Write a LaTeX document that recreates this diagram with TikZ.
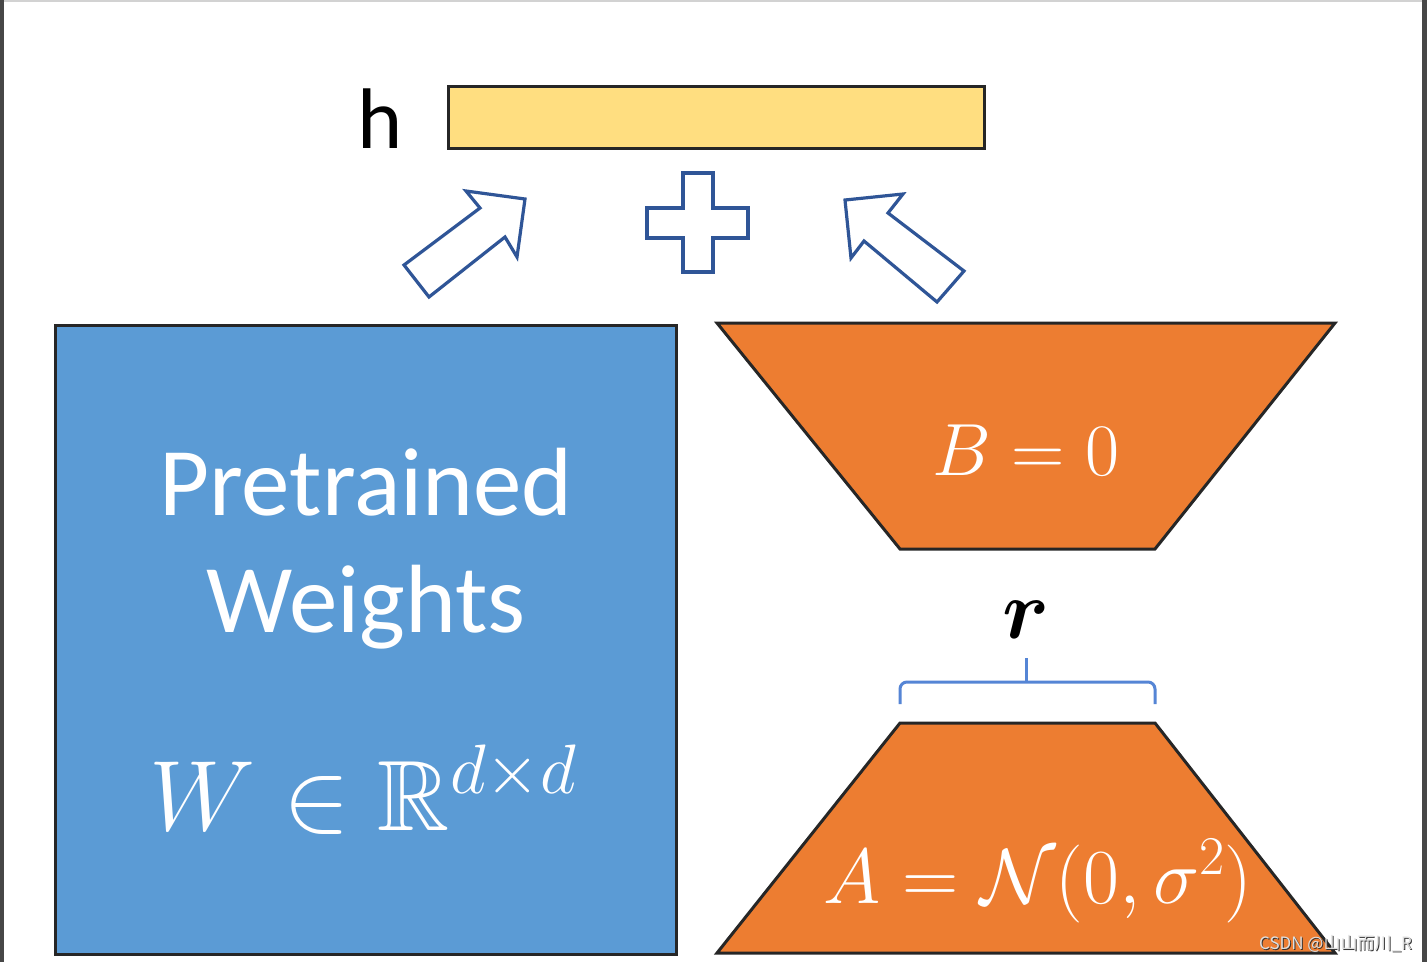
\RequirePackage{fix-cm}
\documentclass[tikz,border=0pt]{standalone}
\usepackage{amsmath,amssymb,bm}
\usepackage{fontspec}
\setmainfont{Carlito}
\newfontfamily\cjkfont{Noto Sans CJK SC}
\definecolor{barY}{HTML}{FFDE80}
\definecolor{wBlue}{HTML}{5B9BD5}
\definecolor{abOrange}{HTML}{ED7D31}
\definecolor{arrBlue}{HTML}{2F5597}
\definecolor{braceBlue}{HTML}{5585D5}
\definecolor{edgeDark}{HTML}{262626}
\begin{document}
\begin{tikzpicture}[x=1pt,y=-1pt,
  outl/.style={draw=edgeDark,line width=3pt,line join=miter},
  blockarrow/.style={draw=arrBlue,fill=white,line width=3.2pt,line join=miter},
  wtext/.style={text=white,inner sep=0pt,anchor=base}]
\useasboundingbox (0,0) rectangle (1427,962);
\fill[white] (0,0) rectangle (1427,962);
% screenshot frame
\fill[gray!35] (0,0) rectangle (1427,2);
\fill[black!72] (0,0) rectangle (4,962);
\fill[black!72] (1422,0) rectangle (1427,962);
% h bar
\node[outl,fill=barY,minimum width=536pt,minimum height=62pt,inner sep=0pt,anchor=north west] (hbar) at (447,85) {};
\node[inner sep=0pt,anchor=base] (hlabel) at (380,148) {\fontsize{86}{86}\selectfont h};
% left block arrow
\draw[blockarrow] (404,265) -- (480,208) -- (466,191) -- (525,199) -- (517,257) -- (505,237) -- (429,297) -- cycle;
% plus
\draw[blockarrow] (683,173) -- (713,173) -- (713,208) -- (748,208) -- (748,238) -- (713,238) -- (713,272) -- (683,272) -- (683,238) -- (647,238) -- (647,208) -- (683,208) -- cycle;
% right block arrow
\draw[blockarrow] (964,271) -- (888,213) -- (903,194) -- (845,200) -- (851,258) -- (864,241) -- (937,302) -- cycle;
% pretrained weights
\node[outl,fill=wBlue,minimum width=621pt,minimum height=629pt,inner sep=0pt,anchor=north west] (W) at (54,324) {};
\node[wtext] (t1) at (366,515) {\fontsize{97}{97}\selectfont Pretrained};
\node[wtext] (t2) at (366,632) {\fontsize{97}{97}\selectfont Weights};
\node[wtext] (t3) at (363,830) {\fontsize{100}{100}\selectfont $W\in\mathbb{R}^{d\times d}$};
% B trapezoid
\draw[outl,fill=abOrange] (717,323) -- (1335,323) -- (1155,549) -- (900,549) -- cycle;
\node[wtext] (Bt) at (1026,475) {\fontsize{74}{74}\selectfont $B=0$};
% brace and r
\draw[braceBlue,line width=3pt,rounded corners=7pt] (900,704) -- (900,682) -- (1155,682) -- (1155,704);
\draw[braceBlue,line width=3pt] (1026,682) -- (1026,658);
\node[inner sep=0pt,anchor=base] (r) at (1026,638) {\fontsize{84}{84}\selectfont $\bm{r}$};
% A trapezoid
\draw[outl,fill=abOrange] (900,723) -- (1155,723) -- (1335,953) -- (717,953) -- cycle;
\node[wtext] (At) at (1038,903) {\fontsize{78}{78}\selectfont $A=\mathcal{N}(0,\sigma^2)$};
% watermark
\node[inner sep=0pt,anchor=base east,text=black!80] (wm0) at (1413,950) {\cjkfont\fontsize{17}{17}\selectfont CSDN @山山而川\_R};
\node[inner sep=0pt,anchor=base east,text=gray!25] (wm) at (1412,949) {\cjkfont\fontsize{17}{17}\selectfont CSDN @山山而川\_R};
\end{tikzpicture}
\end{document}
